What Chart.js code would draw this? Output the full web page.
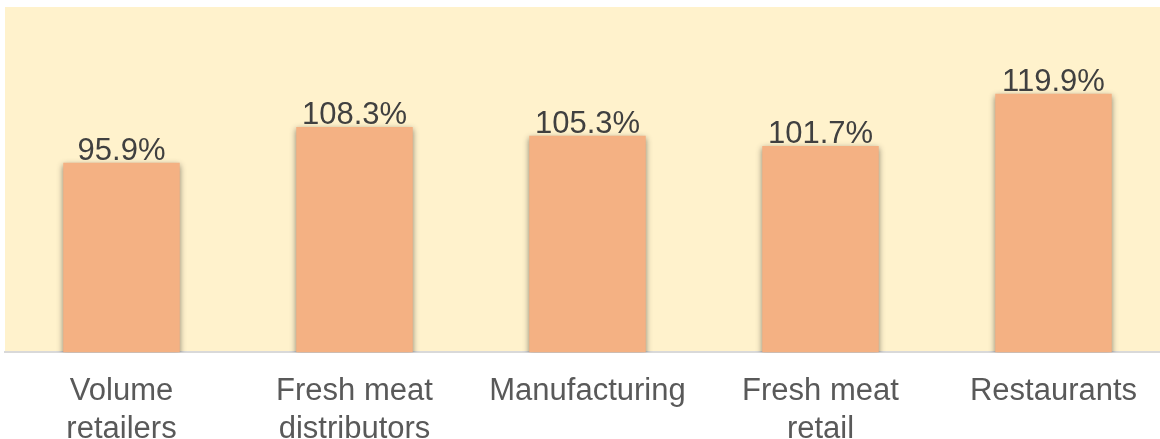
<!DOCTYPE html>
<html>
<head>
    <meta charset="UTF-8">
    <title>Bar chart</title>
    <script src="https://cdn.jsdelivr.net/npm/chart.js"></script>
    <style>
        body {
            margin: 0;
            overflow: hidden;
            background-color: #fff;
            font-family: "Liberation Sans", Arial, sans-serif;
        }
        .chart-container {
            width: 1170px;
            height: 468px;
        }
    </style>
</head>
<body>
    <div class="chart-container">
        <canvas id="chart"></canvas>
    </div>
    <script>
    const categories = [
        ['Volume', 'retailers'],
        ['Fresh meat', 'distributors'],
        'Manufacturing',
        ['Fresh meat', 'retail'],
        'Restaurants'
    ];
    const values = [95.9, 108.3, 105.3, 101.7, 119.9];

    // cream panel behind the plot area
    const panelBg = {
        id: 'panelBg',
        beforeDraw(chart) {
            const { ctx, chartArea } = chart;
            ctx.save();
            ctx.fillStyle = '#FFF2CC';
            ctx.fillRect(chartArea.left, chartArea.top, chartArea.right - chartArea.left, chartArea.bottom - chartArea.top);
            ctx.restore();
        }
    };

    // soft shadow under the bars
    const barShadow = {
        id: 'barShadow',
        beforeDatasetsDraw(chart) {
            const ctx = chart.ctx;
            ctx.save();
            ctx.shadowColor = 'rgba(0, 0, 0, 0.45)';
            ctx.shadowBlur = 6;
            ctx.shadowOffsetX = 0;
            ctx.shadowOffsetY = 2;
        },
        afterDatasetsDraw(chart) {
            chart.ctx.restore();
        }
    };

    // value labels above the bars
    const valueLabels = {
        id: 'valueLabels',
        afterDatasetsDraw(chart) {
            const ctx = chart.ctx;
            const meta = chart.getDatasetMeta(0);
            ctx.save();
            ctx.fillStyle = '#404040';
            ctx.font = '31px "Liberation Sans", Arial, sans-serif';
            ctx.textAlign = 'center';
            ctx.textBaseline = 'alphabetic';
            meta.data.forEach((bar, i) => {
                ctx.fillText(values[i].toFixed(1) + '%', bar.x, bar.y - 3);
            });
            ctx.restore();
        }
    };

    new Chart(document.getElementById('chart'), {
        type: 'bar',
        data: {
            labels: categories,
            datasets: [{
                data: values,
                backgroundColor: '#F4B183',
                borderWidth: 0,
                categoryPercentage: 1.0,
                barPercentage: 0.5
            }]
        },
        options: {
            responsive: true,
            maintainAspectRatio: false,
            animation: false,
            layout: {
                padding: { left: 5, top: 7, right: 0, bottom: 0 }
            },
            plugins: {
                legend: { display: false },
                tooltip: { enabled: false }
            },
            scales: {
                x: {
                    grid: { display: false, drawTicks: false },
                    border: { color: '#D9D9D9', width: 2 },
                    ticks: {
                        color: '#595959',
                        padding: 20,
                        maxRotation: 0,
                        autoSkip: false,
                        font: { family: '"Liberation Sans", Arial, sans-serif', size: 31, lineHeight: 1.22 }
                    }
                },
                y: {
                    display: false,
                    min: 30,
                    max: 150
                }
            }
        },
        plugins: [panelBg, barShadow, valueLabels]
    });
    </script>
</body>
</html>
